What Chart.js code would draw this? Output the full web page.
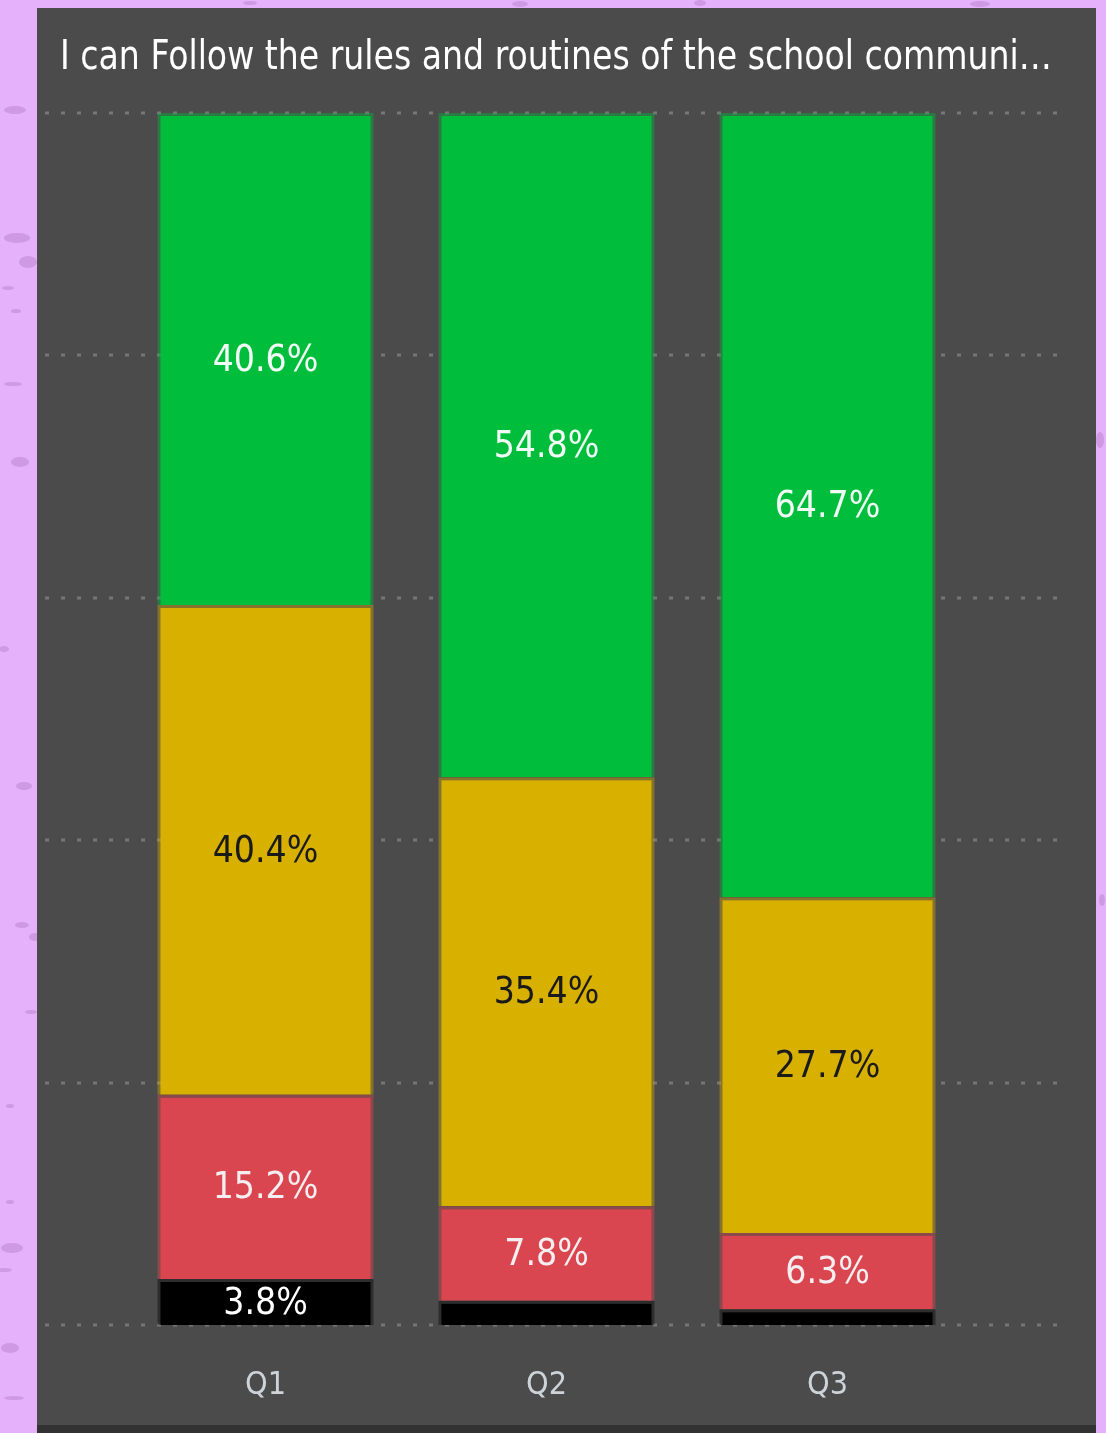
<!DOCTYPE html>
<html>
<head>
<meta charset="utf-8">
<script src="https://cdn.jsdelivr.net/npm/chart.js@4.4.1/dist/chart.umd.min.js"></script>
<style>
html,body{margin:0;padding:0;background:#e4b1fa;overflow:hidden}
#wrap{position:relative;width:1106px;height:1433px}
canvas{display:block}
</style>
</head>
<body>
<div id="wrap"><canvas id="c" width="1106" height="1433"></canvas></div>
<script>
// ---- data ----
const categories = ['Q1', 'Q2', 'Q3'];
const seriesNames = ['Black', 'Red', 'Yellow', 'Green'];
const blackValues = [3.8, 2.0, 1.3];
const redValues = [15.2, 7.8, 6.3];
const yellowValues = [40.4, 35.4, 27.7];
const greenValues = [40.6, 54.8, 64.7];
const yTickValues = [0, 20, 40, 60, 80, 100];
const titleText = 'I can Follow the rules and routines of the school communi\u2026';

// ---- styles ----
const FONT = "'Liberation Sans Narrow', 'DejaVu Sans Condensed', 'Liberation Sans', sans-serif";
const fills = ['#000000', '#d9464f', '#d8b000', '#00be3c'];
const edges = ['rgba(0,0,0,0.4)', 'rgba(217,70,79,0.45)', 'rgba(216,176,0,0.4)', 'rgba(0,190,60,0.4)'];
const labelColors = ['#ffffff', '#f4eef0', '#1a1a1a', '#f2fbf6'];
const seriesValues = [blackValues, redValues, yellowValues, greenValues];

const speckles = [
  [15,110,11,4],[17,238,13,5],[28,262,9,6],[8,288,6,2],[16,311,5,2],[13,384,9,2],
  [20,462,9,5],[4,649,5,3],[24,786,8,4],[22,925,7,3],[35,937,6,4],[31,1012,6,2],
  [10,1106,4,2],[10,1202,4,2],[12,1248,11,5],[4,1270,8,2],[10,1348,9,5],[14,1398,10,2],
  [520,4,8,3],[700,3,6,3],[980,4,10,3],[250,3,7,2],[1100,440,4,8],[1102,900,3,6]
];

const bgPlugin = {
  id: 'bg',
  beforeDraw(chart) {
    const ctx = chart.ctx;
    ctx.save();
    ctx.fillStyle = '#e4b1fa';
    ctx.fillRect(0, 0, chart.width, chart.height);
    ctx.fillStyle = '#cf99e3';
    speckles.forEach(s => {
      ctx.beginPath();
      ctx.ellipse(s[0], s[1], s[2], s[3], 0, 0, Math.PI * 2);
      ctx.fill();
    });
    ctx.fillStyle = '#4b4b4b';
    ctx.fillRect(37, 8, 1059, 1417);
    ctx.fillStyle = '#323232';
    ctx.fillRect(37, 1425, 1059, 8);
    ctx.restore();
  },
  afterDraw(chart) {
    // title, stretched horizontally to the visual's width (single text run)
    const ctx = chart.ctx;
    ctx.save();
    ctx.font = '40px ' + FONT;
    ctx.fillStyle = '#ffffff';
    ctx.textAlign = 'left';
    ctx.textBaseline = 'middle';
    const w = ctx.measureText(titleText).width;
    const sx = Math.min(1.25, Math.max(0.8, 992 / w));
    ctx.translate(60, 59);
    ctx.scale(sx, 1);
    ctx.fillText(titleText, 0, 0);
    ctx.restore();
  }
};

const gridPlugin = {
  id: 'dotgrid',
  beforeDatasetsDraw(chart) {
    const ctx = chart.ctx;
    const y = chart.scales.y;
    ctx.save();
    ctx.strokeStyle = '#767676';
    ctx.lineWidth = 3;
    ctx.setLineDash([4, 12]);
    y.ticks.forEach(t => {
      const py = Math.round(y.getPixelForValue(t.value));
      ctx.beginPath();
      ctx.moveTo(45, py);
      ctx.lineTo(1058, py);
      ctx.stroke();
    });
    ctx.restore();
  }
};

const labelPlugin = {
  id: 'seglabels',
  afterDatasetsDraw(chart) {
    const ctx = chart.ctx;
    ctx.save();
    ctx.font = '37px ' + FONT;
    ctx.textAlign = 'center';
    ctx.textBaseline = 'middle';
    chart.data.datasets.forEach((ds, di) => {
      const meta = chart.getDatasetMeta(di);
      meta.data.forEach((el, i) => {
        const v = ds.data[i];
        if (v < 3) return;
        const p = el.getProps(['x', 'y', 'base'], true);
        ctx.fillStyle = labelColors[di];
        ctx.fillText(v.toFixed(1) + '%', p.x, (p.y + p.base) / 2 + 2);
      });
    });
    ctx.restore();
  }
};

new Chart(document.getElementById('c'), {
  type: 'bar',
  data: {
    labels: categories,
    datasets: seriesValues.map((vals, i) => ({
      label: seriesNames[i],
      data: vals,
      backgroundColor: fills[i],
      borderColor: edges[i],
      borderWidth: {left: 3, right: 3, top: 3, bottom: 0},
      borderSkipped: false,
      barPercentage: 0.77,
      categoryPercentage: 1.0
    }))
  },
  options: {
    responsive: false,
    animation: false,
    devicePixelRatio: 1,
    layout: {padding: {left: 125, right: 138, top: 113, bottom: 0}},
    plugins: {
      legend: {display: false},
      tooltip: {enabled: false},
      title: {display: false}
    },
    scales: {
      x: {
        stacked: true,
        afterFit(scale) { scale.height = 108; },
        grid: {display: false, drawTicks: false},
        border: {display: false},
        ticks: {color: '#cdd3d8', font: {family: FONT, size: 32, lineHeight: 1.2}, padding: 41}
      },
      y: {
        stacked: true,
        min: 0,
        max: 100,
        afterBuildTicks(scale) { scale.ticks = yTickValues.map(v => ({value: v})); },
        afterFit(scale) { scale.width = 0; },
        grid: {display: false, drawTicks: false},
        border: {display: false},
        ticks: {display: false}
      }
    }
  },
  plugins: [bgPlugin, gridPlugin, labelPlugin]
});
</script>
</body>
</html>
